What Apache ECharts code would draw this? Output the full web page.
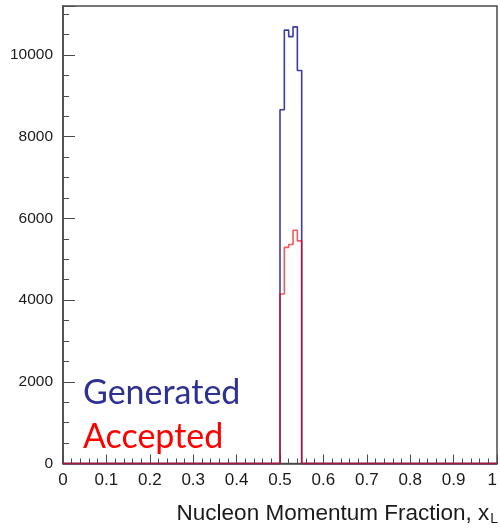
<!DOCTYPE html>
<html>
<head>
<meta charset="utf-8">
<script src="https://cdn.jsdelivr.net/npm/echarts@6/dist/echarts.min.js"></script>
<style>
html,body{margin:0;padding:0;background:#fff;}
#chart{width:500px;height:531px;}
</style>
</head>
<body>
<div id="chart"></div>
<script>
// Histogram bins (lower edges), bin width 0.01; all other bins are empty (0)
const binLowEdges = [0.50, 0.51, 0.52, 0.53, 0.54];
const binWidth = 0.01;
const generated = [8660, 10610, 10450, 10690, 9620];
const accepted  = [4150, 5290, 5360, 5710, 5450];
const xRange = [0, 1];
const yMax = 11200;
const legendLabels = ['Generated', 'Accepted'];
const xTitle = 'Nucleon Momentum Fraction, x';
const xTitleSub = 'L';

function stepData(values) {
  const pts = [[xRange[0], 0]];
  for (let i = 0; i < binLowEdges.length; i++) pts.push([binLowEdges[i], values[i]]);
  pts.push([binLowEdges[binLowEdges.length - 1] + binWidth, 0]);
  pts.push([xRange[1], 0]);
  return pts;
}

const chart = echarts.init(document.getElementById('chart'), null, {renderer: 'canvas'});
const labelFont = 'Liberation Sans, Arial, Helvetica, sans-serif';
chart.setOption({
  animation: false,
  backgroundColor: '#ffffff',
  grid: {left: 63, right: 3, top: 6, bottom: 67.5, show: true, borderColor: '#4a4a4a', borderWidth: 1.5,
    backgroundColor: 'transparent', containLabel: false, outerBoundsMode: 'none'},
  xAxis: {
    type: 'value', min: xRange[0], max: xRange[1], interval: 0.1,
    axisLine: {show: true, lineStyle: {color: '#4a4a4a', width: 1.5}},
    axisTick: {show: true, inside: true, length: 9, lineStyle: {color: '#4a4a4a', width: 1}},
    minorTick: {show: true, splitNumber: 5, length: 5, lineStyle: {color: '#4a4a4a', width: 1}},
    splitLine: {show: false},
    axisLabel: {color: '#1a1a1a', fontSize: 17, fontFamily: labelFont, margin: 8, showMinLabel: true, showMaxLabel: true,
      alignMaxLabel: 'right',
      formatter: v => String(Math.round(v * 10) / 10)}
  },
  yAxis: {
    type: 'value', min: 0, max: yMax, interval: 2000,
    axisLine: {show: true, lineStyle: {color: '#4a4a4a', width: 1.5}},
    axisTick: {show: true, inside: true, length: 12, lineStyle: {color: '#4a4a4a', width: 1}},
    minorTick: {show: true, splitNumber: 4, length: 6, lineStyle: {color: '#4a4a4a', width: 1}},
    splitLine: {show: false},
    axisLabel: {color: '#1a1a1a', fontSize: 15.5, fontFamily: labelFont, margin: 10, showMaxLabel: false,
      formatter: v => String(v)}
  },
  series: [
    {
      name: legendLabels[0], type: 'line', step: 'end', data: stepData(generated),
      showSymbol: false, clip: false,
      lineStyle: {color: '#3c3ca8', width: 1.6}
    },
    {
      name: legendLabels[1], type: 'line', step: 'end', data: stepData(accepted),
      showSymbol: false, clip: false,
      lineStyle: {color: 'rgba(235,0,0,0.65)', width: 1.6}
    }
  ],
  graphic: [
    {type: 'text', left: 83, top: 376, style: {text: legendLabels[0], fill: '#2e3192', font: '34px Lato, "Open Sans", sans-serif'}},
    {type: 'text', left: 83, top: 420, style: {text: legendLabels[1], fill: '#ff0000', font: '34px Lato, "Open Sans", sans-serif'}},
    {type: 'text', right: 2, top: 502, style: {
      text: '{m|' + xTitle + '}{s|' + xTitleSub + '}',
      rich: {
        m: {fontSize: 22.5, fontFamily: labelFont, fill: '#1a1a1a', color: '#1a1a1a'},
        s: {fontSize: 14, fontFamily: labelFont, fill: '#1a1a1a', color: '#1a1a1a', padding: [12, 0, 0, 1]}
      }
    }}
  ]
});
</script>
</body>
</html>
